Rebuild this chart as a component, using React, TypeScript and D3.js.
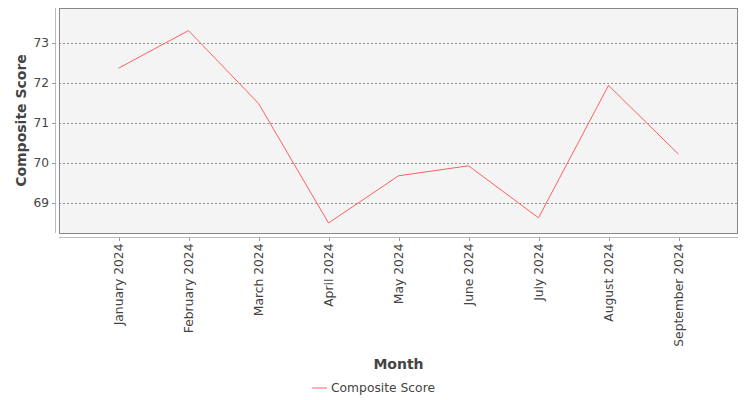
import React from "react";
import * as d3 from "d3";

const months = [
  "January 2024",
  "February 2024",
  "March 2024",
  "April 2024",
  "May 2024",
  "June 2024",
  "July 2024",
  "August 2024",
  "September 2024",
];
const scores = [72.37, 73.31, 71.49, 68.5, 69.68, 69.93, 68.63, 71.94, 70.22];
const yTicks = [69, 70, 71, 72, 73];
const seriesName = "Composite Score";
const xTitle = "Month";
const yTitle = "Composite Score";

const W = 750;
const H = 400;
const plot = { left: 59, right: 738, top: 8, bottom: 233 };
const FONT = "'DejaVu Sans', sans-serif";

export default function App() {
  const x = d3
    .scalePoint<string>()
    .domain(months)
    .range([plot.left, plot.right])
    .padding(0.85);
  const y = d3
    .scaleLinear()
    .domain([68.25, 73.875])
    .range([plot.bottom, plot.top]);

  const line = d3
    .line<number>()
    .x((_, i) => x(months[i]) as number)
    .y((d) => y(d));

  return (
    <svg
      width={W}
      height={H}
      style={{ position: "absolute", left: 0, top: 0, background: "#fff" }}
      fontFamily={FONT}
    >
      <rect
        x={plot.left}
        y={plot.top}
        width={plot.right - plot.left}
        height={plot.bottom - plot.top}
        fill="#f4f4f4"
      />
      {yTicks.map((t) => (
        <line
          key={"g" + t}
          x1={plot.left}
          x2={plot.right}
          y1={Math.round(y(t)) + 0.5}
          y2={Math.round(y(t)) + 0.5}
          stroke="#777"
          strokeWidth={0.8}
          strokeDasharray="2,2"
        />
      ))}
      <rect
        x={plot.left + 0.5}
        y={plot.top + 0.5}
        width={plot.right - plot.left - 1}
        height={plot.bottom - plot.top}
        fill="none"
        stroke="#888"
        strokeWidth={1}
      />
      {/* y axis */}
      <line x1={55.5} x2={55.5} y1={plot.top} y2={plot.bottom} stroke="#bbb" />
      {yTicks.map((t) => (
        <g key={"y" + t}>
          <line
            x1={52}
            x2={55.5}
            y1={Math.round(y(t)) + 0.5}
            y2={Math.round(y(t)) + 0.5}
            stroke="#999"
          />
          <text
            x={49}
            y={y(t)}
            textAnchor="end"
            dominantBaseline="central"
            fontSize={12.2}
            fill="#444"
          >
            {t}
          </text>
        </g>
      ))}
      {/* x axis */}
      <line x1={plot.left} x2={plot.right} y1={237.5} y2={237.5} stroke="#bbb" />
      {months.map((m) => {
        const px = Math.round(x(m) as number) + 0.5;
        return (
          <g key={m}>
            <line x1={px} x2={px} y1={237.5} y2={241} stroke="#999" />
            <text
              transform={`translate(${px - 0.5},243.5) rotate(-90)`}
              textAnchor="end"
              dominantBaseline="central"
              fontSize={12.3}
              fill="#444"
            >
              {m}
            </text>
          </g>
        );
      })}
      <path
        d={line(scores) || ""}
        fill="none"
        stroke="#ff6060"
        strokeWidth={1}
      />
      {/* titles */}
      <text
        transform={`translate(21,${(plot.top + plot.bottom) / 2}) rotate(-90)`}
        textAnchor="middle"
        dominantBaseline="central"
        fontSize={14}
        fontWeight="bold"
        fill="#444"
      >
        {yTitle}
      </text>
      <text
        x={(plot.left + plot.right) / 2}
        y={364}
        textAnchor="middle"
        dominantBaseline="central"
        fontSize={14}
        fontWeight="bold"
        fill="#444"
      >
        {xTitle}
      </text>
      {/* legend */}
      <line x1={312} x2={327} y1={388} y2={388} stroke="#ff6060" strokeWidth={1} />
      <text
        x={331}
        y={388}
        dominantBaseline="central"
        fontSize={12.3}
        fill="#444"
      >
        {seriesName}
      </text>
    </svg>
  );
}
